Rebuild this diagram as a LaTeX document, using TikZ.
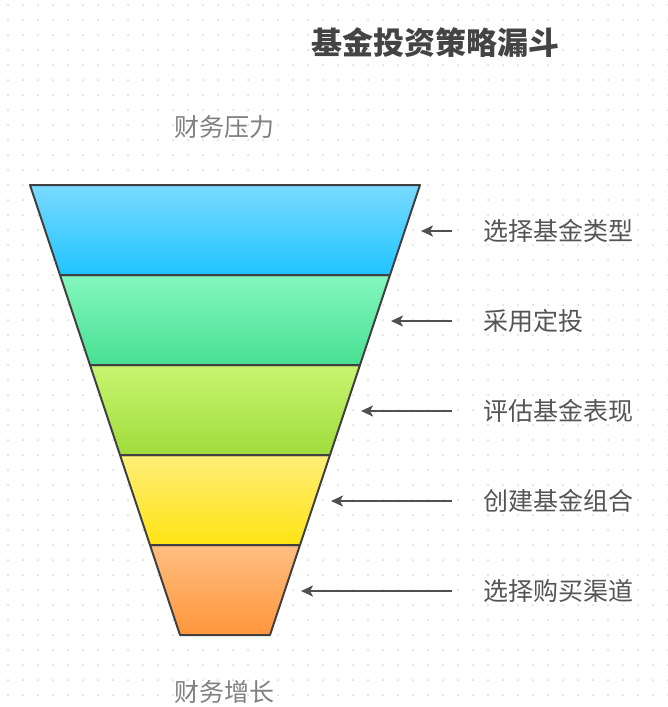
\documentclass[tikz,border=0pt]{standalone}
\usepackage{fontspec}
\newfontfamily\cjk{Noto Sans CJK SC}
\usetikzlibrary{arrows.meta}
\definecolor{dotc}{HTML}{D8D8D8}
\definecolor{edgec}{HTML}{404040}
\definecolor{arrc}{HTML}{505050}
\definecolor{titlec}{HTML}{444444}
\definecolor{labc}{HTML}{555555}
\definecolor{endc}{HTML}{808080}
\definecolor{b1t}{HTML}{7ADAFF}\definecolor{b1b}{HTML}{20C4FF}
\definecolor{b2t}{HTML}{84F7BE}\definecolor{b2b}{HTML}{48E092}
\definecolor{b3t}{HTML}{C8F570}\definecolor{b3b}{HTML}{A0DC3C}
\definecolor{b4t}{HTML}{FFEE78}\definecolor{b4b}{HTML}{FFE414}
\definecolor{b5t}{HTML}{FFBE82}\definecolor{b5b}{HTML}{FF963C}
\tikzset{
  band/.style={draw=edgec, line width=2pt, line join=round},
  arr/.style={draw=arrc, line width=2.6pt, -{Stealth[length=12pt,width=11pt,inset=3pt]}},
  lab/.style={anchor=west, inner sep=0pt, text=labc, font=\cjk\fontsize{25}{28}\selectfont},
  endlab/.style={inner sep=0pt, text=endc, font=\cjk\fontsize{25}{28}\selectfont},
  titlelab/.style={inner sep=0pt, text=titlec, font=\cjk\bfseries\fontsize{31}{36}\selectfont}
}
\begin{document}
\begin{tikzpicture}[x=1pt,y=-1pt]
\fill[white] (0,0) rectangle (668,707);
\useasboundingbox (0,0) rectangle (668,707);
\foreach \i in {0,...,44}{
  \foreach \j in {0,...,47}{
    \fill[dotc] ({8+15*\i},{5+15*\j}) circle (1pt);
  }
}
% bands
\shade[top color=b1t, bottom color=b1b] (30,185) -- (420,185) -- (390,275) -- (60,275) -- cycle;
\shade[top color=b2t, bottom color=b2b] (60,275) -- (390,275) -- (360,365) -- (90,365) -- cycle;
\shade[top color=b3t, bottom color=b3b] (90,365) -- (360,365) -- (330,455) -- (120,455) -- cycle;
\shade[top color=b4t, bottom color=b4b] (120,455) -- (330,455) -- (300,545) -- (150,545) -- cycle;
\shade[top color=b5t, bottom color=b5b] (150,545) -- (300,545) -- (270,635) -- (180,635) -- cycle;
\draw[band] (30,185) -- (420,185) -- (390,275) -- (60,275) -- cycle;
\draw[band] (60,275) -- (390,275) -- (360,365) -- (90,365) -- cycle;
\draw[band] (90,365) -- (360,365) -- (330,455) -- (120,455) -- cycle;
\draw[band] (120,455) -- (330,455) -- (300,545) -- (150,545) -- cycle;
\draw[band] (150,545) -- (300,545) -- (270,635) -- (180,635) -- cycle;
% texts
\node[titlelab] (title) at (435,43) {基金投资策略漏斗};
\node[endlab] (top) at (224,127) {财务压力};
\node[endlab] (bottom) at (224,692) {财务增长};
\node[lab] (l1) at (483,231) {选择基金类型};
\node[lab] (l2) at (483,321) {采用定投};
\node[lab] (l3) at (483,411) {评估基金表现};
\node[lab] (l4) at (483,501) {创建基金组合};
\node[lab] (l5) at (483,591) {选择购买渠道};
\coordinate (t1) at (421,231);
\coordinate (t2) at (391,321);
\coordinate (t3) at (361,411);
\coordinate (t4) at (331,501);
\coordinate (t5) at (301,591);
\draw[arr] ([xshift=-31pt]l1.west) -- (t1);
\draw[arr] ([xshift=-31pt]l2.west) -- (t2);
\draw[arr] ([xshift=-31pt]l3.west) -- (t3);
\draw[arr] ([xshift=-31pt]l4.west) -- (t4);
\draw[arr] ([xshift=-31pt]l5.west) -- (t5);
\end{tikzpicture}
\end{document}
